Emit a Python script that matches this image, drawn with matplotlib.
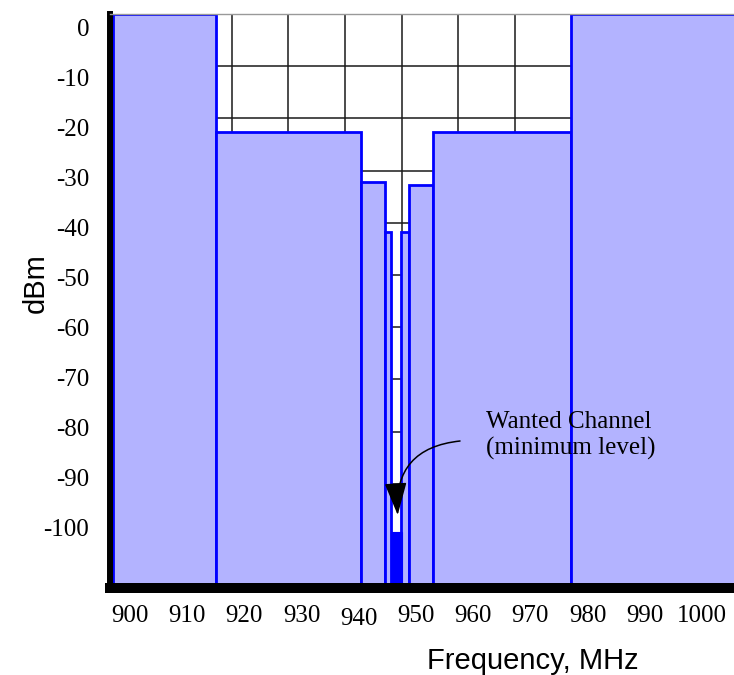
import matplotlib
matplotlib.use("Agg")
import matplotlib.pyplot as plt
import numpy as np
from matplotlib.transforms import ScaledTranslation

plt.rcParams["axes.unicode_minus"] = False

# Axis ticks
freq_ticks = [900, 910, 920, 930, 940, 950, 960, 970, 980, 990, 1000]
level_ticks = [0, -10, -20, -30, -40, -50, -60, -70, -80, -90, -100]

# Blocking mask steps: start / stop frequency (MHz) and level (dBm)
band_start = [897.1, 915.0, 940.4, 944.5, 947.4, 948.7, 952.9, 977.1]
band_stop = [915.0, 940.4, 944.5, 945.7, 948.7, 952.9, 977.1, 1010.0]
band_level = [2.6, -21, -31, -41, -41, -31.5, -21, 2.6]

# Wanted channel at its minimum level
wanted_start = 945.6
wanted_stop = 947.6
wanted_level = -101

FLOOR = -112.2
XLIM = (896.5, 1005.6)
YLIM = (FLOOR, 2.6)

serif = ["Liberation Serif", "DejaVu Serif"]
sans = ["Liberation Sans", "DejaVu Sans"]

fig = plt.figure(figsize=(7.34, 6.75), dpi=100)
ax = fig.add_axes([110 / 734, 87 / 675, 624 / 734, 574 / 675])
ax.set_xlim(*XLIM)
ax.set_ylim(*YLIM)

# background reference grid
grid_x = np.arange(897.95, XLIM[1], 9.91)
grid_y = np.arange(-7.84, FLOOR, -10.44)
ax.vlines(grid_x, FLOOR, YLIM[1], colors="#1a1a1a", linewidth=1.1, zorder=0.5)
ax.hlines(grid_y, XLIM[0], XLIM[1], colors="#1a1a1a", linewidth=1.1, zorder=0.5)

# mask bands
starts = np.array(band_start)
stops = np.array(band_stop)
levels = np.array(band_level)
ax.bar(starts, levels - FLOOR, width=stops - starts, bottom=FLOOR, align="edge",
       color="#b3b3ff", edgecolor="#0000ff", linewidth=2.0, zorder=1.5)

# wanted channel
ax.bar([wanted_start], [wanted_level - FLOOR], width=wanted_stop - wanted_start,
       bottom=FLOOR, align="edge", color="#0000ff", edgecolor="#0000ff",
       linewidth=0.8, zorder=1.6)

# spines
ax.spines["right"].set_visible(False)
ax.spines["top"].set_color("#999999")
ax.spines["top"].set_linewidth(1.0)
ax.spines["left"].set_linewidth(4.3)
ax.spines["left"].set_color("black")
ax.spines["bottom"].set_linewidth(7.2)
ax.spines["bottom"].set_color("black")
for s in ax.spines.values():
    s.set_zorder(3)

ax.set_xticks(freq_ticks)
ax.set_xticklabels([str(v) for v in freq_ticks], fontfamily=serif, fontsize=18)
ax.set_yticks(level_ticks)
ax.set_yticklabels([str(v) for v in level_ticks], fontfamily=serif, fontsize=18)
ax.tick_params(axis="both", length=0, colors="black")
ax.tick_params(axis="x", pad=12)
ax.tick_params(axis="y", pad=15)

# the 940 label sits slightly lower than its neighbours
for lbl in ax.get_xticklabels():
    if lbl.get_text() == "940":
        lbl.set_transform(lbl.get_transform()
                          + ScaledTranslation(0, -3 / 100, fig.dpi_scale_trans))

ax.set_xlabel("Frequency, MHz", fontfamily=sans, fontsize=21, va="baseline")
ax.xaxis.set_label_coords(0.678, -0.141)
ax.set_ylabel("dBm", fontfamily=sans, fontsize=21, va="center")
ax.yaxis.set_label_coords(-0.119, 0.531)

# annotation
ax.text(962.2, -76.7, "Wanted Channel\n(minimum level)", fontfamily=serif,
        fontsize=18, ha="left", va="top", linespacing=1.25, zorder=4)
wanted_mid = (wanted_start + wanted_stop) / 2
ax.annotate("", xy=(wanted_mid + 0.2, wanted_level + 3.4), xytext=(957.7, -82.8),
            arrowprops=dict(arrowstyle="-|>,head_length=2.05,head_width=0.7",
                            mutation_scale=10, color="black", linewidth=1.1,
                            shrinkA=0, shrinkB=0,
                            connectionstyle="arc3,rad=0.48"),
            zorder=4)

fig.savefig("out.png", dpi=100)
